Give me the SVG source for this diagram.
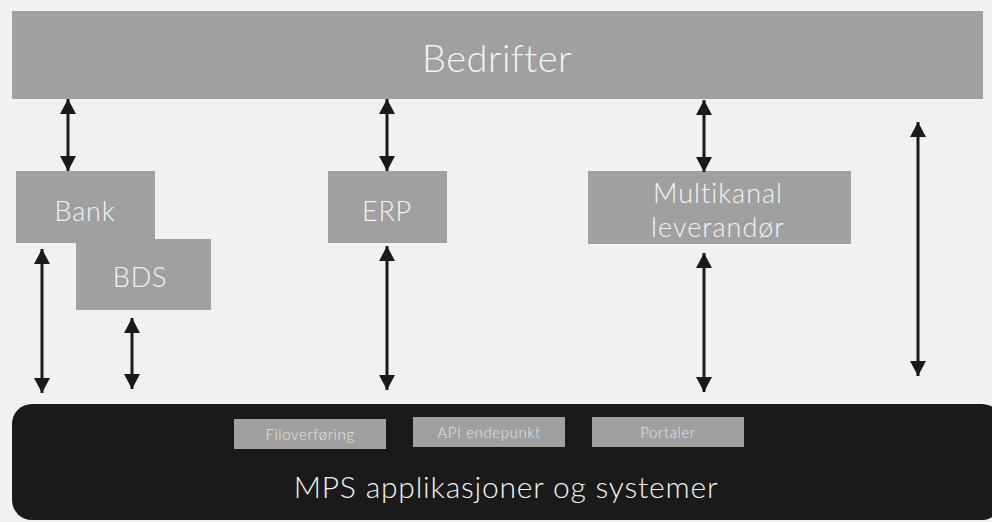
<svg xmlns="http://www.w3.org/2000/svg" width="992" height="522" viewBox="0 0 992 522">
<defs>
<marker id="ah" markerUnits="userSpaceOnUse" markerWidth="16" markerHeight="16" refX="15" refY="8" orient="auto-start-reverse" viewBox="0 0 16 16">
<path d="M0,0 L15,8 L0,16 z" fill="#1a1a1a"/>
</marker>
<style>
.box{fill:#a0a0a0}
.t{font-family:Lato,"Open Sans","Liberation Sans",sans-serif;font-weight:300;fill:#f4f4f4;text-anchor:middle}
.s{font-family:Lato,"Open Sans","Liberation Sans",sans-serif;font-weight:300;fill:#e4e4e4;text-anchor:middle;font-size:15px;letter-spacing:0.6px}
.c{stroke:#1a1a1a;stroke-width:3;fill:none;marker-start:url(#ah);marker-end:url(#ah)}
</style>
</defs>
<rect width="992" height="522" fill="#f2f1ef"/>
<g id="bedrifter">
<rect class="box" x="12" y="11" width="971" height="88"/>
<text class="t" x="497" y="72" font-size="38" letter-spacing="0.5">Bedrifter</text>
</g>
<g id="bank">
<rect class="box" x="16" y="171" width="139" height="72"/>
<text class="t" x="85" y="221" font-size="27" letter-spacing="0.8">Bank</text>
</g>
<g id="bds">
<rect class="box" x="76" y="239" width="135" height="71"/>
<text class="t" x="140" y="287" font-size="27" letter-spacing="0.8">BDS</text>
</g>
<g id="erp">
<rect class="box" x="328" y="171" width="119" height="72"/>
<text class="t" x="387" y="221" font-size="27" letter-spacing="0.8">ERP</text>
</g>
<g id="multikanal">
<rect class="box" x="588" y="171" width="263" height="73"/>
<text class="t" x="718" y="203" font-size="27" letter-spacing="1">Multikanal</text>
<text class="t" x="718" y="237" font-size="27" letter-spacing="1">leverandør</text>
</g>
<g id="mps">
<rect x="12" y="404" width="990" height="116" rx="20" fill="#1a1a1a"/>
<text class="t" x="506" y="498" font-size="30" letter-spacing="0.8">MPS applikasjoner og systemer</text>
</g>
<g id="filoverforing">
<rect class="box" x="234" y="419" width="152" height="30"/>
<text class="s" x="310" y="440">Filoverføring</text>
</g>
<g id="api">
<rect class="box" x="413" y="417" width="152" height="30"/>
<text class="s" x="489" y="438">API endepunkt</text>
</g>
<g id="portaler">
<rect class="box" x="592" y="417" width="152" height="30"/>
<text class="s" x="668" y="438">Portaler</text>
</g>
<g id="connectors">
<line class="c" x1="68" y1="99" x2="68" y2="171"/>
<line class="c" x1="387" y1="99" x2="387" y2="171"/>
<line class="c" x1="704" y1="100" x2="704" y2="172"/>
<line class="c" x1="918" y1="122" x2="918" y2="376"/>
<line class="c" x1="42" y1="249" x2="42" y2="393"/>
<line class="c" x1="132" y1="318" x2="132" y2="389"/>
<line class="c" x1="387" y1="246" x2="387" y2="390"/>
<line class="c" x1="704" y1="253" x2="704" y2="392"/>
</g>
</svg>
